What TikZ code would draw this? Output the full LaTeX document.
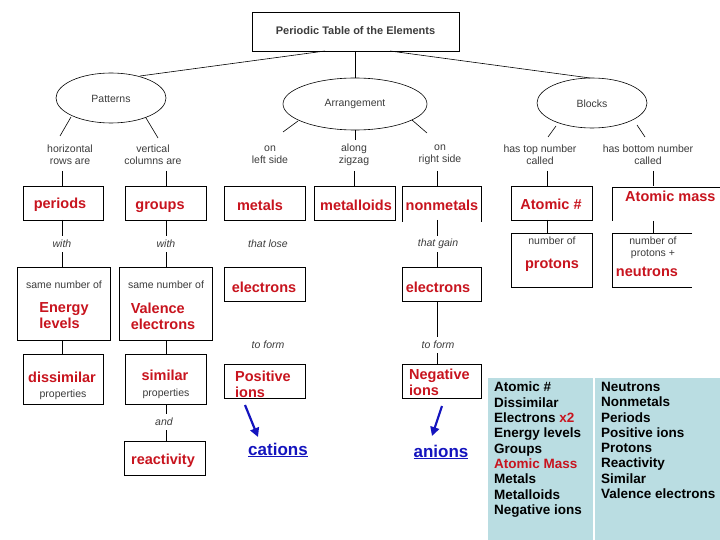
\documentclass[tikz,border=0pt]{standalone}
\usepackage{fontspec}
\setmainfont{Liberation Sans}
\usetikzlibrary{arrows.meta}
\definecolor{rd}{RGB}{200,20,30}
\definecolor{bl}{RGB}{20,20,190}
\definecolor{gr}{RGB}{60,60,60}
\definecolor{bank}{RGB}{186,221,226}
\begin{document}
\begin{tikzpicture}[x=1pt,y=-1pt,
  bx/.style={draw,line width=0.6pt},
  ln/.style={line width=0.6pt},
  lab/.style={text=gr,font=\fontsize{10.5}{12}\selectfont,align=center,inner sep=0},
  itl/.style={text=gr,font=\fontsize{10.5}{12}\selectfont\itshape,inner sep=1pt},
  red/.style={text=rd,font=\fontsize{14.5}{16}\selectfont\bfseries,align=left,inner sep=0},
  bk/.style={font=\fontsize{13.5}{15.3}\selectfont\bfseries,align=left,anchor=north west,inner sep=0}]
\useasboundingbox (0,0) rectangle (720,540);
\fill[white] (0,0) rectangle (720,540);
% title and ellipses
\draw[bx] (252,12) rectangle (459,51);
\node[inner sep=0,text=gr,font=\fontsize{11}{12}\selectfont\bfseries] (title) at (355.5,31) {Periodic Table of the Elements};
\draw[ln] (111,98) ellipse [x radius=55,y radius=25];
\node[lab] (pat) at (111,99) {Patterns};
\draw[ln] (355,104) ellipse [x radius=72,y radius=26];
\node[lab] (arr) at (355,104) {Arrangement};
\draw[ln] (592,103) ellipse [x radius=55,y radius=25];
\node[lab] (blk) at (592,104) {Blocks};
\draw[ln] (325,51) -- (140,76);
\draw[ln] (355,51) -- (355,78);
\draw[ln] (390,51) -- (590,78);
% link labels
\node[lab] (l1) at (70,155) {horizontal\\rows are};
\node[lab] (l2) at (153,155) {vertical\\columns are};
\node[lab] (l3) at (270,155) {on\\left side};
\node[lab] (l4) at (354,155) {along\\zigzag};
\node[lab] (l5) at (440,155) {on\\right side};
\node[lab] (l6) at (540,155) {has top number\\called};
\node[lab] (l7) at (648,155) {has bottom number\\called};
\draw[ln] (71,117) -- (60,136);
\draw[ln] (146,118) -- (158,138);
\draw[ln] (298,121) -- (283,132);
\draw[ln] (355,130) -- (355,140);
\draw[ln] (412,120) -- (427,133);
\draw[ln] (556,126) -- (548,137);
\draw[ln] (637,125) -- (645,137);
\foreach \x in {62,166,354,437,547,653} \draw[ln] (\x,171) -- (\x,186);
% row 1
\draw[bx] (23,186) rectangle (103,220);
\node[red] (periods) at (60,205) {periods};
\draw[bx] (125,186) rectangle (206,220);
\node[red] (groups) at (160,207) {groups};
\draw[bx] (224,186) rectangle (305,220);
\node[red] (metals) at (260,205) {metals};
\draw[bx] (314,186) rectangle (395,220);
\node[red] (metalloids) at (356,205) {metalloids};
\draw[ln] (402,222) -- (402,186) -- (481,186) -- (481,222);
\node[red] (nonmetals) at (442,205) {nonmetals};
\draw[bx] (511,186) rectangle (592,220);
\node[red] (anum) at (551,204) {Atomic \#};
\draw[ln] (612,221) -- (612,187) -- (720,187);
\node[red,anchor=west] (amass) at (625,196) {Atomic mass};
% with / that
\node[itl] (w1) at (62,244) {with};
\node[itl] (w2) at (166,244) {with};
\node[itl] (w3) at (268,244) {that lose};
\node[itl] (w4) at (438,244) {that gain};
\foreach \x in {62,166,437} {\draw[ln] (\x,220) -- (\x,236); \draw[ln] (\x,252) -- (\x,267);}
\draw[ln] (547,220) -- (547,233);
\draw[ln] (653,221) -- (653,233);
% row 2
\draw[bx] (17,267) rectangle (110,340);
\node[lab] (s1) at (64,285) {same number of};
\node[red] (energy) at (64,316) {Energy\\levels};
\draw[bx] (119,267) rectangle (212,340);
\node[lab] (s2) at (166,285) {same number of};
\node[red] (valence) at (163,316) {Valence\\electrons};
\draw[bx] (224,267) rectangle (305,301);
\node[red] (el1) at (264,287) {electrons};
\draw[bx] (402,267) rectangle (481,301);
\node[red] (el2) at (438,287) {electrons};
\draw[bx] (511,233) rectangle (592,287);
\node[lab] (n1) at (552,241) {number of};
\node[red] (protons) at (552,265) {protons};
\draw[ln] (692,233) -- (612,233) -- (612,287) -- (692,287);
\node[lab] (n2) at (653,248) {number of\\protons +};
\node[red] (neutrons) at (647,272) {neutrons};
% row 3
\draw[ln] (62,340) -- (62,354);
\draw[ln] (166,340) -- (166,354);
\draw[bx] (23,354) rectangle (103,404);
\node[red] (dis) at (62,377) {dissimilar};
\node[lab] (p1) at (63,395) {properties};
\draw[bx] (125,354) rectangle (206,404);
\node[red] (sim) at (165,375) {similar};
\node[lab] (p2) at (166,394) {properties};
\node[itl] (and) at (164,422) {and};
\draw[ln] (166,404) -- (166,414);
\draw[ln] (166,430) -- (166,441);
\draw[bx] (124,441) rectangle (205,475);
\node[red] (react) at (163,461) {reactivity};
\node[itl] (f1) at (268,345) {to form};
\node[itl] (f2) at (438,345) {to form};
\draw[ln] (437,301) -- (437,337);
\draw[ln] (437,353) -- (437,364);
\draw[bx] (224,364) rectangle (305,398);
\node[red] (pos) at (235,384) [anchor=west] {Positive\\ions};
\draw[bx] (402,364) rectangle (481,398);
\node[red] (neg) at (409,382) [anchor=west] {Negative\\ions};
\draw[bl,line width=2.2pt,-{Triangle[length=9pt,width=9pt]}] (245,405) -- (258,437);
\draw[bl,line width=2.2pt,-{Triangle[length=9pt,width=9pt]}] (442,406) -- (432,436);
\node[text=bl,font=\fontsize{17}{18}\selectfont\bfseries,inner sep=0] (cat) at (278,450) {\underline{cations}};
\node[text=bl,font=\fontsize{17}{18}\selectfont\bfseries,inner sep=0] (an) at (441,452) {\underline{anions}};
% word bank
\fill[bank] (488,378) rectangle (593,540);
\fill[bank] (595,378) rectangle (720,540);
\node[bk] (wb1) at (494,382) {Atomic \#\\Dissimilar\\Electrons \textcolor{rd}{x2}\\Energy levels\\Groups\\\textcolor{rd}{Atomic Mass}\\Metals\\Metalloids\\Negative ions};
\node[bk] (wb2) at (601,382) {Neutrons\\Nonmetals\\Periods\\Positive ions\\Protons\\Reactivity\\Similar\\Valence electrons};
\end{tikzpicture}
\end{document}
